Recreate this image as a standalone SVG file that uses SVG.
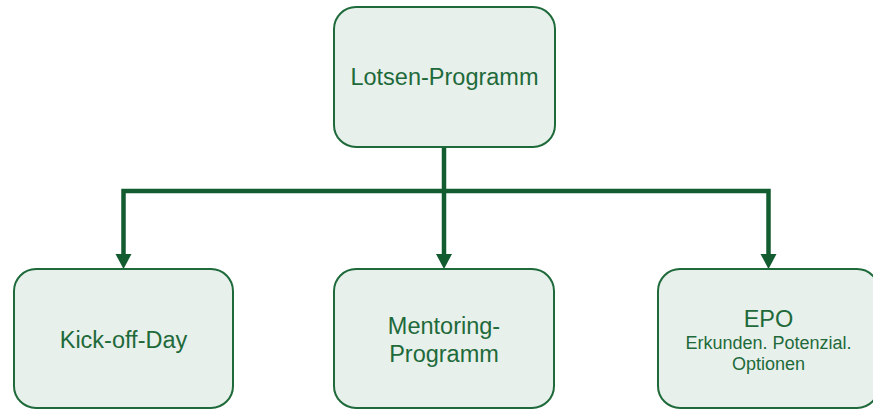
<svg xmlns="http://www.w3.org/2000/svg" width="873" height="409" viewBox="0 0 873 409">
<style>
.node{fill:#e8f0ec;stroke:#1e6a3a;stroke-width:2}
.t{font-family:"Liberation Sans",Arial,sans-serif;fill:#1e6a3a;text-anchor:middle}
.big{font-size:23.5px}
.small{font-size:18px}
.conn{fill:none;stroke:#135c30;stroke-width:4.5;stroke-linejoin:miter}
.head{fill:#135c30}
</style>
<rect width="873" height="409" fill="#ffffff"/>
<g id="connectors">
<path class="conn" d="M444,147 V254"/>
<path class="conn" d="M123.5,254 V191 H768.5 V254"/>
<path class="head" d="M436,254 L452,254 L444,269 Z"/>
<path class="head" d="M115.5,254 L131.5,254 L123.5,269 Z"/>
<path class="head" d="M760.5,254 L776.5,254 L768.5,269 Z"/>
</g>
<g id="lotsen">
<rect class="node" x="334" y="7" width="221" height="140" rx="22"/>
<text class="t big" x="444.5" y="85">Lotsen-Programm</text>
</g>
<g id="kickoff">
<rect class="node" x="14" y="269" width="219" height="139" rx="22"/>
<text class="t big" x="123.5" y="348">Kick-off-Day</text>
</g>
<g id="mentoring">
<rect class="node" x="334" y="269" width="220" height="139" rx="22"/>
<text class="t big" x="444" y="334">Mentoring-</text>
<text class="t big" x="444" y="362">Programm</text>
</g>
<g id="epo">
<rect class="node" x="658" y="269" width="221" height="139" rx="22"/>
<text class="t big" x="768.5" y="327">EPO</text>
<text class="t small" x="768.5" y="349">Erkunden. Potenzial.</text>
<text class="t small" x="768.5" y="370">Optionen</text>
</g>
</svg>
